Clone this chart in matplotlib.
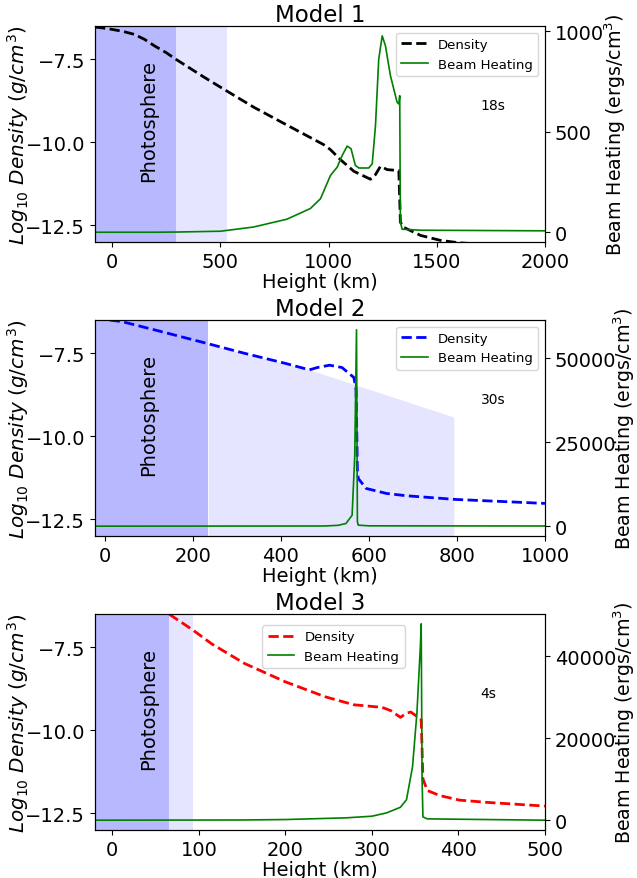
import numpy as np
import matplotlib
matplotlib.use("Agg")
import matplotlib.pyplot as plt

# ---- Model 1 (18s) ----
h1_dens = [-79, -40, 0, 50, 103, 150, 197, 250, 295, 423, 501, 654, 808, 978, 1009, 1055,
           1117, 1194, 1217, 1240, 1271, 1325, 1332, 1345, 1425, 1517, 1600, 2000]
d1 = [-6.53, -6.56, -6.6, -6.66, -6.75, -6.9, -7.1, -7.3, -7.5, -8.03, -8.34, -8.94, -9.48,
      -10.07, -10.22, -10.52, -10.87, -11.11, -10.97, -10.72, -10.82, -10.85, -12.4, -12.55,
      -12.8, -12.95, -13.02, -13.2]
h1_beam = [-79, 0, 200, 300, 400, 501, 654, 808, 916, 963, 1009, 1040, 1063, 1086, 1104,
           1124, 1140, 1186, 1202, 1217, 1232, 1248, 1263, 1286, 1317, 1325, 1329, 1332,
           1340, 1425, 2000]
b1 = [0, 0, 0, 1, 3, 5, 26, 65, 118, 167, 283, 324, 382, 429, 416,
      333, 320, 320, 341, 531, 862, 978, 929, 780, 647, 639, 680, 51,
      15, 10, 7]

# ---- Model 2 (30s) ----
h2_dens = [-22, 0, 40, 132, 234, 317, 409, 465, 483, 511, 539, 566, 571, 574, 576, 594,
           640, 686, 797, 1000]
d2 = [-6.46, -6.48, -6.55, -6.86, -7.21, -7.5, -7.8, -8.0, -7.93, -7.86, -7.93, -8.23,
      -8.6, -11.0, -11.27, -11.57, -11.72, -11.79, -11.9, -12.02]
h2_beam = [-22, 500, 530, 548, 562, 568, 572, 574, 576, 600, 1000]
b2 = [0, 50, 250, 790, 3250, 20960, 58500, 1280, 300, 100, 50]
h2_shade = [235, 317, 409, 466, 793]
top2_shade = [-7.22, -7.5, -7.8, -8.0, -9.42]

# ---- Model 3 (4s) ----
h3_dens = [66, 92, 115, 153, 200, 246, 279, 312, 322, 333, 340, 345, 352, 357, 359, 364,
           378, 401, 434, 500]
d3 = [-6.51, -6.96, -7.4, -7.99, -8.54, -8.99, -9.23, -9.31, -9.41, -9.61, -9.48, -9.45,
      -9.58, -9.68, -11.46, -11.81, -11.96, -12.1, -12.17, -12.28]
h3_beam = [-20, 150, 200, 270, 300, 317, 333, 340, 347, 352, 356, 357, 358, 359, 364, 500]
b3 = [0, 50, 160, 570, 970, 1780, 3150, 5000, 13090, 26020, 42180, 47840, 9860, 800, 320, 0]

models = [
    dict(title="Model 1", hd=h1_dens, d=d1, hb=h1_beam, b=b1, color="k", xlim=(-79, 2000),
         xticks=[0, 500, 1000, 1500, 2000], rticks=[0, 500, 1000], dark=295, light=532,
         label="18s", rx=1.156, leg=dict(loc="upper right")),
    dict(title="Model 2", hd=h2_dens, d=d2, hb=h2_beam, b=b2, color="b", xlim=(-22, 1000),
         xticks=[0, 200, 400, 600, 800, 1000], rticks=[0, 25000, 50000], dark=235, light=None,
         label="30s", rx=1.176, leg=dict(loc="upper right")),
    dict(title="Model 3", hd=h3_dens, d=d3, hb=h3_beam, b=b3, color="r", xlim=(-20, 500),
         xticks=[0, 100, 200, 300, 400, 500], rticks=[0, 20000, 40000], dark=65, light=93,
         label="4s", rx=1.176, leg=dict(loc="upper center", bbox_to_anchor=(0.53, 0.98))),
]

fig = plt.figure(figsize=(6.37, 8.79), dpi=100)
bottoms = [0.7235, 0.3891, 0.0546]
side_labels = []  # (text, wanted length in px)

for m, bot in zip(models, bottoms):
    ax = fig.add_axes([0.1491, bot, 0.7064, 0.2457])
    ax2 = ax.twinx()

    ax.axvspan(m["xlim"][0], m["dark"], color="blue", alpha=0.28, lw=0)
    if m["light"] is not None:
        ax.axvspan(m["dark"], m["light"], color="blue", alpha=0.1, lw=0)
    else:
        ax.fill_between(h2_shade, -13, top2_shade, color="blue", alpha=0.1, lw=0)

    l1, = ax.plot(m["hd"], m["d"], color=m["color"], ls="--", lw=2, label="Density")
    l2, = ax2.plot(m["hb"], m["b"], color="g", lw=1.2, label="Beam Heating")

    ax.set_xlim(*m["xlim"])
    ax.set_ylim(-13, -6.5)
    ax.set_xticks(m["xticks"])
    ax.set_yticks([-12.5, -10.0, -7.5])
    ax2.set_yticks(m["rticks"])
    ax.tick_params(labelsize=14)
    ax2.tick_params(labelsize=14)

    ax.set_title(m["title"], fontsize=16.5, pad=3)
    ax.set_xlabel("Height (km)", fontsize=14, labelpad=1)

    # y labels as plain texts so their centres sit where the reference has them
    tl = ax.text(-0.171, 0.5, r"$Log_{10}\ Density\ (g/cm^3)$", transform=ax.transAxes,
                 rotation=90, fontsize=14, ha="center", va="center")
    tr = ax.text(m["rx"], 0.5, r"Beam Heating (ergs/cm$^3$)", transform=ax.transAxes,
                 rotation=90, fontsize=14, ha="center", va="center")
    side_labels += [(tl, 220), (tr, 244)]

    ax.text(0.12, 0.567, "Photosphere", transform=ax.transAxes, rotation=90,
            fontsize=14, ha="center", va="center")
    ax.text(0.857, 0.635, m["label"], transform=ax.transAxes, fontsize=10,
            ha="left", va="center")
    ax2.legend([l1, l2], ["Density", "Beam Heating"], fontsize=9.5, **m["leg"])

# scale the side labels to the length they have in the reference
fig.canvas.draw()
renderer = fig.canvas.get_renderer()
for t, want in side_labels:
    h = t.get_window_extent(renderer).height
    t.set_fontsize(t.get_fontsize() * want / h)

fig.savefig("out.png", dpi=100)
